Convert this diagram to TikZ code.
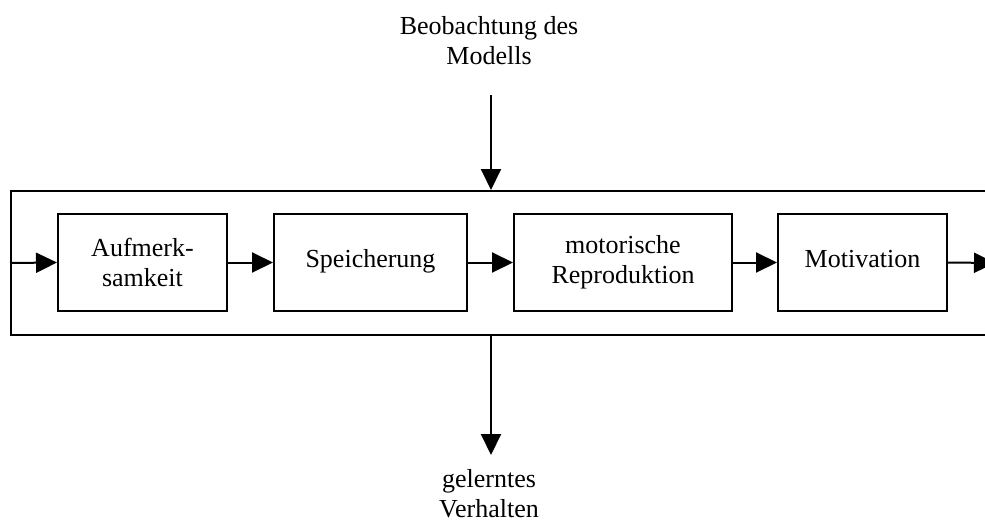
\documentclass[tikz,border=0pt]{standalone}
\usepackage{fontspec}
\setmainfont{Liberation Serif}
\usetikzlibrary{arrows.meta}
\begin{document}
\begin{tikzpicture}[x=1pt,y=-1pt,
  line width=2pt,
  every node/.style={font=\fontsize{26}{30}\selectfont},
  stagebox/.style={draw, line width=2pt, minimum height=97pt, inner sep=0pt, align=center},
  arr/.style={-{Triangle[length=21pt,width=20pt]}, line width=2pt},
  lbl/.style={align=center, inner sep=0pt, anchor=north}]
\useasboundingbox (0,0) rectangle (985,522);
\begin{scope}
\clip (0,0) rectangle (985,522);
\node[draw, line width=2pt, minimum width=983pt, minimum height=144pt, inner sep=0pt] (outer) at (502.5,263) {};
\node[stagebox, minimum width=169pt] (a) at (142.5,262.5) {Aufmerk-\\samkeit};
\node[stagebox, minimum width=193pt, text depth=8pt] (b) at (370.5,262.5) {Speicherung};
\node[stagebox, minimum width=218pt] (c) at (623,262.5) {motorische\\Reproduktion};
\node[stagebox, minimum width=169pt, text depth=8pt] (d) at (862.5,262.5) {Motivation};
\node[lbl] (obs) at (489,15) {Beobachtung des\\Modells};
\node[lbl] (out) at (489,468) {gelerntes\\Verhalten};
\coordinate (topc) at (491,95);
\coordinate (botc) at (491,455);
\draw[arr] (outer.west) -- (a.west);
\draw[arr] (a.east) -- (b.west);
\draw[arr] (b.east) -- (c.west);
\draw[arr] (c.east) -- (d.west);
\draw[arr] (d.east) -- (outer.east);
\draw[arr] (topc) -- (topc |- outer.north);
\draw[arr] (botc |- outer.south) -- (botc);
\end{scope}
\end{tikzpicture}
\end{document}
